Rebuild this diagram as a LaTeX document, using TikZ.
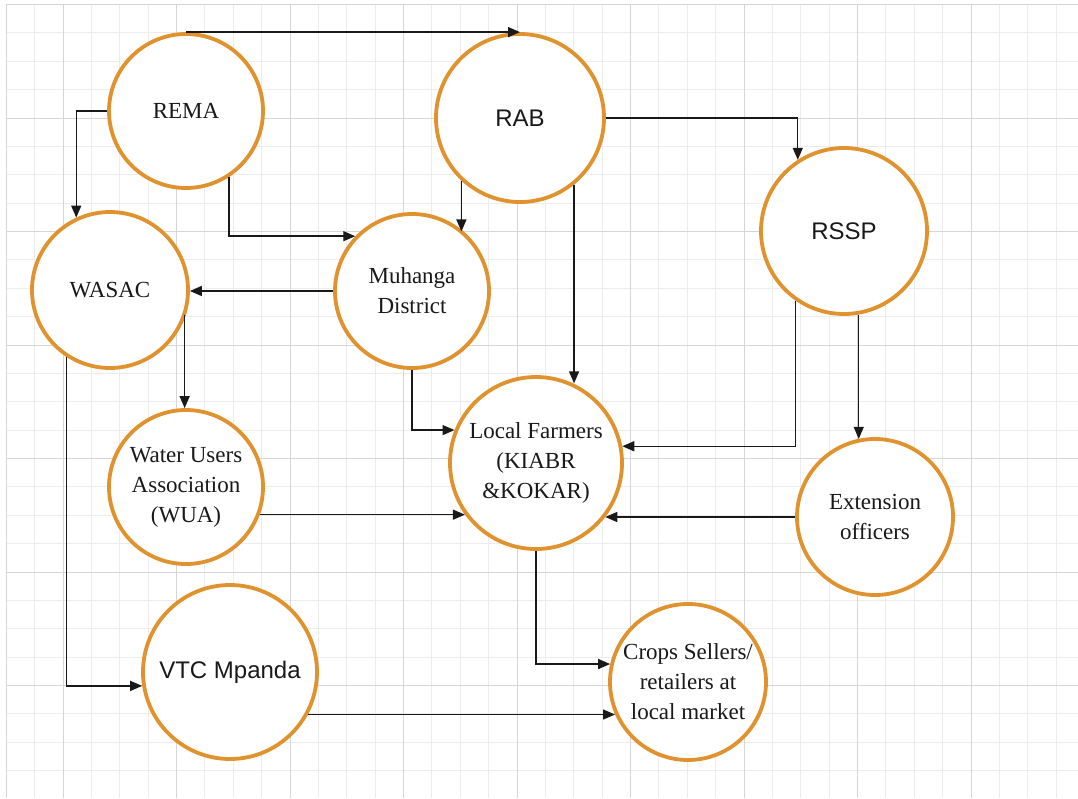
\documentclass[tikz,border=0pt]{standalone}
\usepackage{fontspec}
\setmainfont{Liberation Serif}
\newfontfamily\arialf{Liberation Sans}
\usetikzlibrary{arrows.meta}
\definecolor{ring}{RGB}{223,146,45}
\definecolor{gridminor}{RGB}{236,236,236}
\definecolor{gridmajor}{RGB}{214,214,214}
\definecolor{ink}{RGB}{25,25,25}
\begin{document}
\begin{tikzpicture}[x=1pt,y=-1pt,
 ent/.style={circle, draw=ring, line width=3.8pt, fill=white, align=center, inner sep=0pt, font=\fontsize{23}{30}\selectfont, text=ink},
 sansent/.style={ent, font=\arialf\fontsize{24}{30}\selectfont},
 arr/.style={draw=ink, line width=1.4pt, -{Triangle[length=12pt,width=10pt]}},
 ]
\useasboundingbox (0,0) rectangle (1078,798);
\fill[white] (0,0) rectangle (1078,798);
% grid
\foreach \i in {0,...,37} \draw[gridminor, line width=1pt] ({6.25+28.375*\i},5) -- ({6.25+28.375*\i},798);
\foreach \i in {0,...,27} \draw[gridminor, line width=1pt] (6,{4.5+28.375*\i}) -- (1078,{4.5+28.375*\i});
\foreach \i in {0,...,8} \draw[gridmajor, line width=1pt] ({63+113.5*\i},5) -- ({63+113.5*\i},798);
\foreach \i in {0,...,6} \draw[gridmajor, line width=1pt] (6,{4.5+113.5*\i}) -- (1078,{4.5+113.5*\i});
\draw[gridmajor, line width=1pt] (6.25,4.5) -- (6.25,798);

% entities
\node[ent, minimum size=154pt] (REMA) at (186,111) {REMA};
\node[sansent, minimum size=168pt] (RAB) at (520,118) {RAB};
\node[sansent, minimum size=166pt] (RSSP) at (844,231) {RSSP};
\node[ent, minimum size=156pt] (WASAC) at (110,290) {WASAC};
\node[ent, minimum size=154pt] (Muhanga) at (412,291) {Muhanga\\District};
\node[ent, minimum size=172pt] (LF) at (536,463) {Local Farmers\\(KIABR\\\&KOKAR)};
\node[ent, minimum size=154pt] (WUA) at (186,487) {Water Users\\Association\\(WUA)};
\node[ent, minimum size=156pt] (Ext) at (875,517) {Extension\\officers};
\node[sansent, minimum size=174pt] (VTC) at (230,672) {VTC Mpanda};
\node[ent, minimum size=156pt] (Crops) at (688,682) {Crops Sellers/\\retailers at\\local market};

% connectors
\draw[arr] (REMA.north) -- (REMA.north -| RAB.north);
\draw[arr] (REMA.west) -| (WASAC.115);
\draw[arr] (REMA.-57) |- (Muhanga.136.5);
\draw[arr] (RAB.-133.67) -- (RAB.-133.67 |- Muhanga.49.5);
\draw[arr] (RAB.-51.75) -- (RAB.-51.75 |- LF.65.25);
\draw[arr] (RAB.east) -| (RSSP.123.65);
\draw[arr] (Muhanga.west) -- (Muhanga.west -| WASAC.east);
\draw[arr] (Muhanga.south) |- (LF.158.9);
\draw[arr] (WUA.91.5 |- WASAC.-18.4) -- (WUA.91.5);
\draw[arr] (WASAC.-123.5) |- (VTC.189.3);
\draw[arr] (LF.216.4 -| WUA.-20.5) -- (LF.216.4);
\draw[arr] (RSSP.-125.3) |- (LF.11.4);
\draw[arr] (RSSP.-80.3) -- (RSSP.-80.3 |- Ext.102.6);
\draw[arr] (Ext.west) -- (Ext.west -| LF.-38.9);
\draw[arr] (LF.south) |- (Crops.167.4);
\draw[arr] (Crops.204.2 -| VTC.-28.9) -- (Crops.204.2);
\end{tikzpicture}
\end{document}
